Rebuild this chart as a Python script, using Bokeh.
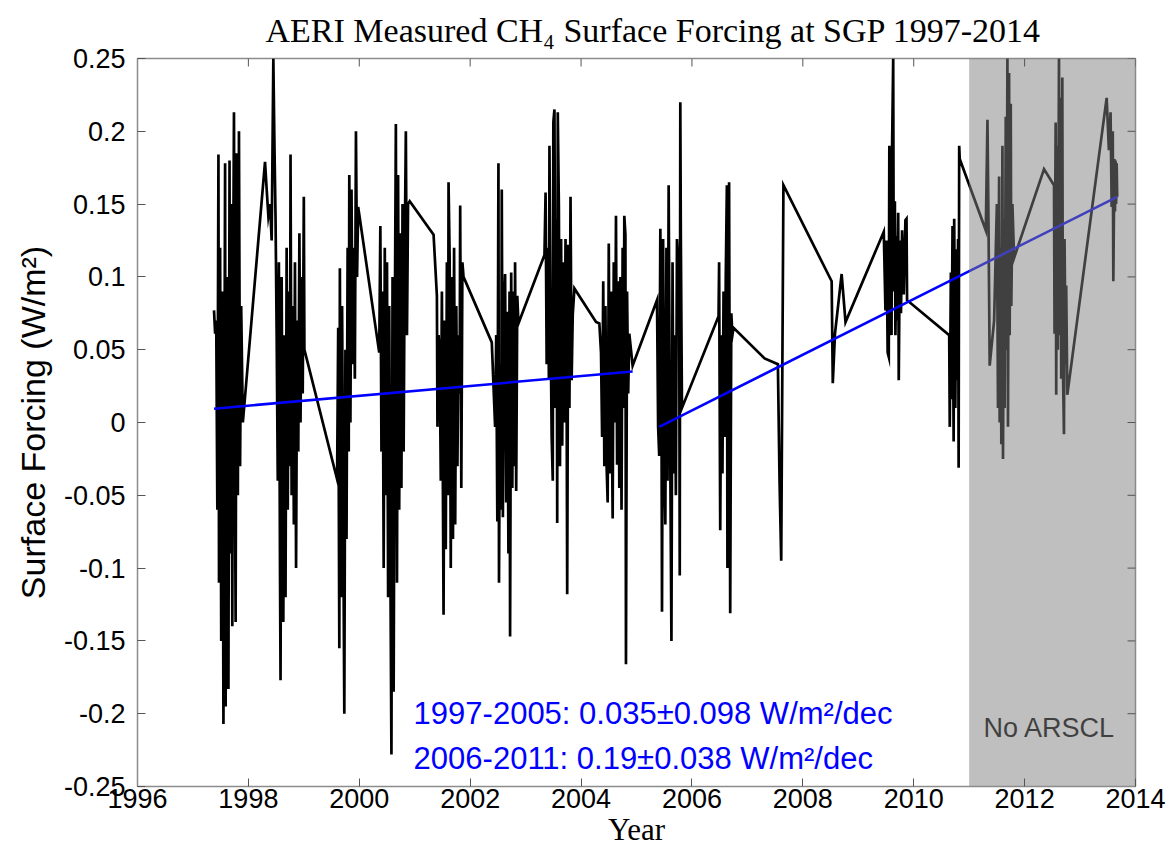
from bokeh.plotting import figure
from bokeh.models import Range1d, FixedTicker
from bokeh.core.properties import value
from bokeh.embed import file_html
from bokeh.resources import INLINE

# ---------------- data ----------------
t97 = [1997.38, 1997.40, 1997.42, 1997.44, 1997.46, 1997.47, 1997.49, 1997.51, 1997.53, 1997.55,
       1997.57, 1997.58, 1997.59, 1997.61, 1997.62, 1997.64, 1997.66, 1997.67, 1997.69, 1997.71,
       1997.72, 1997.74, 1997.76, 1997.77, 1997.79, 1997.81, 1997.83, 1997.85, 1997.87, 1997.90]
f97 = [0.077, 0.061, 0.070, -0.060, 0.184, -0.110, 0.120, -0.150, 0.090, -0.207,
       0.050, 0.178, -0.195, 0.100, -0.120, -0.183, 0.180, -0.090, 0.150, -0.140,
       0.060, 0.213, -0.060, -0.137, 0.185, -0.050, 0.200, -0.030, 0.080, 0.000]

t98 = [1998.30, 1998.33, 1998.36, 1998.39, 1998.42, 1998.45, 1998.47, 1998.49, 1998.51, 1998.53,
       1998.55, 1998.57, 1998.58, 1998.60, 1998.62, 1998.63, 1998.65, 1998.67, 1998.69, 1998.71,
       1998.73, 1998.75, 1998.76, 1998.78, 1998.80, 1998.82, 1998.84, 1998.86, 1998.88, 1998.90,
       1998.92, 1998.94, 1998.96, 1998.98, 1999.00, 1999.01]
f98 = [0.179, 0.160, 0.142, 0.150, 0.125, 0.250, 0.190, 0.140, 0.060, -0.040,
       0.110, -0.100, -0.177, 0.100, -0.080, -0.137, 0.060, -0.120, 0.120, -0.060,
       0.090, -0.030, 0.184, -0.050, 0.080, -0.070, 0.110, -0.100, 0.070, -0.020,
       0.130, 0.000, 0.100, 0.020, 0.155, 0.050]

t99 = [1999.60, 1999.62, 1999.64, 1999.65, 1999.67, 1999.69, 1999.71, 1999.73, 1999.75, 1999.77,
       1999.79, 1999.81, 1999.82, 1999.84, 1999.86, 1999.88, 1999.90, 1999.92, 1999.94, 1999.96,
       1999.98]
f99 = [-0.039, 0.065, -0.155, 0.106, -0.120, 0.080, -0.060, -0.200, 0.050, -0.080,
       0.120, -0.020, 0.170, 0.000, 0.160, 0.040, 0.120, 0.030, 0.200, 0.100,
       0.148]

t00 = [2000.36, 2000.38, 2000.40, 2000.42, 2000.44, 2000.46, 2000.48, 2000.50, 2000.52, 2000.54,
       2000.56, 2000.58, 2000.60, 2000.62, 2000.64, 2000.66, 2000.68, 2000.70, 2000.72, 2000.74,
       2000.76, 2000.78, 2000.80, 2000.82, 2000.84, 2000.86, 2000.88, 2000.91]
f00 = [0.048, 0.135, -0.020, 0.090, -0.100, 0.120, -0.050, 0.110, -0.120, 0.080,
       -0.090, -0.228, 0.100, -0.185, 0.060, 0.205, -0.110, 0.170, -0.060, 0.130,
       -0.045, 0.150, -0.020, 0.120, 0.200, 0.060, 0.150, 0.152]

t01 = [2001.34, 2001.40, 2001.41, 2001.43, 2001.45, 2001.47, 2001.49, 2001.51, 2001.52, 2001.54,
       2001.56, 2001.58, 2001.60, 2001.61, 2001.63, 2001.65, 2001.67, 2001.69, 2001.71, 2001.73,
       2001.75, 2001.77, 2001.79, 2001.81, 2001.82, 2001.84, 2001.86, 2001.88]
f01 = [0.129, 0.087, -0.003, 0.060, 0.048, -0.040, 0.090, -0.060, -0.132, 0.070,
       -0.087, 0.110, -0.050, 0.165, 0.113, -0.100, 0.100, -0.080, 0.120, -0.070,
       0.080, -0.030, 0.060, 0.020, 0.149, -0.045, 0.110, 0.100]

t02 = [2002.39, 2002.45, 2002.47, 2002.49, 2002.51, 2002.52, 2002.54, 2002.56, 2002.57, 2002.59,
       2002.61, 2002.63, 2002.65, 2002.67, 2002.69, 2002.71, 2002.72, 2002.74, 2002.76, 2002.78,
       2002.80, 2002.81, 2002.83, 2002.85, 2002.87]
f02 = [0.055, -0.003, 0.060, -0.068, 0.178, -0.110, 0.040, -0.060, 0.160, -0.065,
       0.080, 0.102, -0.055, 0.076, -0.090, 0.090, -0.147, 0.103, -0.045, 0.090,
       -0.030, 0.110, -0.047, 0.087, 0.068]

t03 = [2003.34, 2003.36, 2003.38, 2003.40, 2003.42, 2003.43, 2003.45, 2003.47, 2003.49, 2003.50,
       2003.52, 2003.54, 2003.56, 2003.57, 2003.58, 2003.60, 2003.62, 2003.64, 2003.66, 2003.68,
       2003.70, 2003.72, 2003.74, 2003.75, 2003.77, 2003.79, 2003.81, 2003.83, 2003.85, 2003.88]
f03 = [0.115, 0.158, 0.040, 0.120, 0.030, 0.190, 0.070, -0.010, -0.040, 0.206,
       0.215, 0.010, 0.140, -0.069, 0.213, 0.148, -0.030, 0.126, -0.016, 0.110,
       0.000, 0.126, 0.020, -0.118, 0.122, 0.010, 0.155, 0.029, 0.074, 0.092]

t04 = [2004.27, 2004.33, 2004.36, 2004.38, 2004.40, 2004.42, 2004.44, 2004.46, 2004.48, 2004.50,
       2004.52, 2004.54, 2004.56, 2004.57, 2004.59, 2004.61, 2004.63, 2004.65, 2004.67, 2004.69,
       2004.71, 2004.73, 2004.75, 2004.77, 2004.78, 2004.80, 2004.81, 2004.83, 2004.85, 2004.87,
       2004.93]
f04 = [0.069, 0.068, 0.048, -0.010, 0.097, -0.030, 0.080, -0.029, -0.055, 0.123,
       -0.035, 0.090, -0.020, -0.066, 0.110, 0.000, 0.142, -0.029, 0.097, -0.045,
       0.100, -0.060, 0.120, 0.010, 0.142, 0.129, -0.166, 0.090, 0.020, 0.061,
       0.039]

t05 = [2005.37, 2005.39, 2005.41, 2005.43, 2005.45, 2005.46, 2005.48, 2005.50, 2005.52, 2005.54,
       2005.56, 2005.58, 2005.60, 2005.61, 2005.63, 2005.65, 2005.67, 2005.69, 2005.71, 2005.73,
       2005.75, 2005.77, 2005.78, 2005.79, 2005.80, 2005.82]
f05 = [0.084, -0.003, -0.023, 0.133, 0.020, -0.130, 0.126, -0.020, -0.070, 0.120,
       -0.040, 0.163, 0.010, -0.030, -0.150, 0.110, -0.035, 0.060, -0.050, 0.126,
       0.110, 0.090, -0.105, 0.220, 0.126, 0.010]

t06 = [2006.48, 2006.49, 2006.51, 2006.53, 2006.55, 2006.57, 2006.59, 2006.61, 2006.63, 2006.64,
       2006.66, 2006.67, 2006.69, 2006.71, 2006.73, 2006.75]
f06 = [0.073, 0.110, -0.074, 0.060, -0.035, 0.090, -0.010, 0.100, 0.163, -0.100,
       0.095, 0.165, -0.131, 0.075, 0.060, 0.065]

t07 = [2007.31, 2007.55, 2007.58, 2007.61, 2007.65, 2008.52, 2008.54, 2008.58, 2008.70, 2008.77]
f07 = [0.044, 0.040, -0.040, -0.095, 0.163, 0.097, 0.027, 0.061, 0.102, 0.069]

t09 = [2009.46, 2009.49, 2009.51, 2009.53, 2009.55, 2009.56, 2009.58, 2009.60, 2009.61, 2009.63,
       2009.64, 2009.66, 2009.67, 2009.69, 2009.70, 2009.72, 2009.73, 2009.75, 2009.77, 2009.79,
       2009.82, 2009.85, 2009.87, 2009.88]
f09 = [0.131, 0.077, 0.125, 0.048, 0.045, 0.190, 0.110, 0.060, 0.190, 0.250,
       0.090, 0.152, 0.060, 0.128, 0.070, 0.144, 0.029, 0.125, 0.075, 0.132,
       0.088, 0.139, 0.140, 0.084]

t10 = [2010.64, 2010.65, 2010.67, 2010.68, 2010.70, 2010.72, 2010.73, 2010.75, 2010.77, 2010.78,
       2010.80, 2010.81, 2010.82, 2010.83]
f10 = [0.060, -0.003, 0.103, 0.016, 0.135, -0.013, 0.140, 0.010, 0.119, 0.029,
       0.126, -0.031, 0.190, 0.181]

t11 = [2011.30, 2011.33, 2011.35, 2011.37, 2011.45, 2011.50, 2011.52, 2011.54, 2011.55, 2011.57,
       2011.58, 2011.60, 2011.61, 2011.63, 2011.64, 2011.66, 2011.67, 2011.69, 2011.70, 2011.72,
       2011.73, 2011.75, 2011.76, 2011.78, 2011.81]
f11 = [0.132, 0.208, 0.131, 0.039, 0.070, 0.150, 0.010, 0.169, 0.000, 0.120,
       -0.015, 0.190, -0.025, 0.140, 0.010, 0.210, 0.050, 0.250, -0.003, 0.240,
       0.060, 0.219, 0.080, 0.150, 0.113]

t12 = [2012.35, 2012.53, 2012.54, 2012.56, 2012.57, 2012.58, 2012.60, 2012.62, 2012.63, 2012.65,
       2012.66, 2012.68, 2012.69, 2012.71, 2012.72, 2012.74, 2012.75, 2012.77]
f12 = [0.174, 0.163, 0.061, 0.206, 0.019, 0.190, 0.050, 0.250, 0.060, 0.223,
       0.030, 0.237, 0.040, -0.008, 0.126, 0.040, 0.094, 0.019]

t13 = [2013.48, 2013.52, 2013.55, 2013.57, 2013.59, 2013.60, 2013.62, 2013.63, 2013.64, 2013.65,
       2013.66, 2013.67]
f13 = [0.223, 0.187, 0.213, 0.148, 0.200, 0.097, 0.181, 0.145, 0.180, 0.150,
       0.178, 0.155]

# linear trends
trend1_years = [1997.38, 2004.93]
trend1_vals = [0.0095, 0.035]
trend2_years = [2005.41, 2013.67]
trend2_vals = [-0.003, 0.155]

# shaded period without ARSCL
no_arscl_start = 2011.0
no_arscl_end = 2014.0

x_min, x_max = 1996, 2014
y_min, y_max = -0.25, 0.25
x_ticks = [1996, 1998, 2000, 2002, 2004, 2006, 2008, 2010, 2012, 2014]
y_ticks = [-0.25, -0.2, -0.15, -0.1, -0.05, 0, 0.05, 0.1, 0.15, 0.2, 0.25]
y_tick_labels = ["-0.25", "-0.2", "-0.15", "-0.1", "-0.05", "0", "0.05", "0.1", "0.15", "0.2", "0.25"]

trend_texts = ["1997-2005: 0.035\u00b10.098 W/m\u00b2/dec",
               "2006-2011: 0.19\u00b10.038 W/m\u00b2/dec"]
trend_text_x = [2000.98, 2000.98]
trend_text_y = [-0.2, -0.231]

years = t97 + t98 + t99 + t00 + t01 + t02 + t03 + t04 + t05 + t06 + t07 + t09 + t10 + t11 + t12 + t13
forcing = f97 + f98 + f99 + f00 + f01 + f02 + f03 + f04 + f05 + f06 + f07 + f09 + f10 + f11 + f12 + f13

# ---------------- figure ----------------
SANS = "Liberation Sans"
SERIF = "Liberation Serif"
TICK_PX = 8          # inward tick length in pixels
FRAME_W, FRAME_H = 998, 728

p = figure(width=1172, height=855, output_backend="svg", toolbar_location=None,
           x_range=Range1d(x_min, x_max), y_range=Range1d(y_min, y_max),
           min_border_left=137, min_border_right=37, min_border_top=58, min_border_bottom=69,
           title="AERI Measured CH\u2084 Surface Forcing at SGP 1997-2014")

p.title.text_font = SERIF
p.title.text_font_size = "34px"
p.title.text_font_style = "normal"
p.title.align = "left"
p.title.offset = 128
p.title.standoff = 19
p.title.text_color = "#000000"

p.background_fill_color = "white"
p.border_fill_color = "white"
p.outline_line_color = "#8c8c8c"
p.outline_line_width = 1.5
p.xgrid.visible = False
p.ygrid.visible = False

for ax in (p.xaxis[0], p.yaxis[0]):
    ax.major_tick_in = TICK_PX
    ax.major_tick_out = 0
    ax.minor_tick_line_color = None
    ax.major_tick_line_color = "#555555"
    ax.axis_line_color = "#8c8c8c"
    ax.major_label_text_font = SANS
    ax.major_label_text_font_size = "27px"
    ax.major_label_text_color = "#000000"
    ax.axis_label_text_font_style = "normal"
    ax.axis_label_text_color = "#000000"

p.xaxis.ticker = FixedTicker(ticks=x_ticks)
p.xaxis.major_label_standoff = 2
p.xaxis.axis_label = "Year"
p.xaxis.axis_label_text_font = SERIF
p.xaxis.axis_label_text_font_size = "31px"
p.xaxis.axis_label_standoff = 1

p.yaxis.ticker = FixedTicker(ticks=y_ticks)
p.yaxis.major_label_overrides = dict(zip(y_ticks, y_tick_labels))
p.yaxis.major_label_standoff = 12
p.yaxis.axis_label = "Surface Forcing (W/m\u00b2)"
p.yaxis.axis_label_text_font = SANS
p.yaxis.axis_label_text_font_size = "34px"
p.yaxis.axis_label_standoff = 9

# data
p.line(years, forcing, line_color="black", line_width=2.7, line_join="miter")
p.line(trend1_years, trend1_vals, line_color="#0000ff", line_width=2.5)
p.line(trend2_years, trend2_vals, line_color="#0000ff", line_width=2.5)

p.text(x=trend_text_x, y=trend_text_y, text=trend_texts, text_color="#0000ff",
       text_font=value(SANS), text_font_size="31px", text_baseline="alphabetic", text_align="left")

p.text(x=[2012.45], y=[-0.2095], text=["No ARSCL"], text_color="black",
       text_font=value(SANS), text_font_size="27px", text_baseline="alphabetic", text_align="center")

# translucent grey shading (drawn over the data like the original)
p.quad(left=[no_arscl_start], right=[no_arscl_end], bottom=[y_min], top=[y_max],
       fill_color="#808080", fill_alpha=0.5, line_color=None)

# inward ticks on the top and right edges of the box
dy = TICK_PX * (y_max - y_min) / FRAME_H
dx = TICK_PX * (x_max - x_min) / FRAME_W
p.segment(x0=x_ticks, x1=x_ticks, y0=[y_max] * len(x_ticks), y1=[y_max - dy] * len(x_ticks),
          line_color="#555555", line_width=1)
p.segment(x0=[x_max] * len(y_ticks), x1=[x_max - dx] * len(y_ticks), y0=y_ticks, y1=y_ticks,
          line_color="#555555", line_width=1)

open("out.html", "w").write(file_html(p, INLINE))
